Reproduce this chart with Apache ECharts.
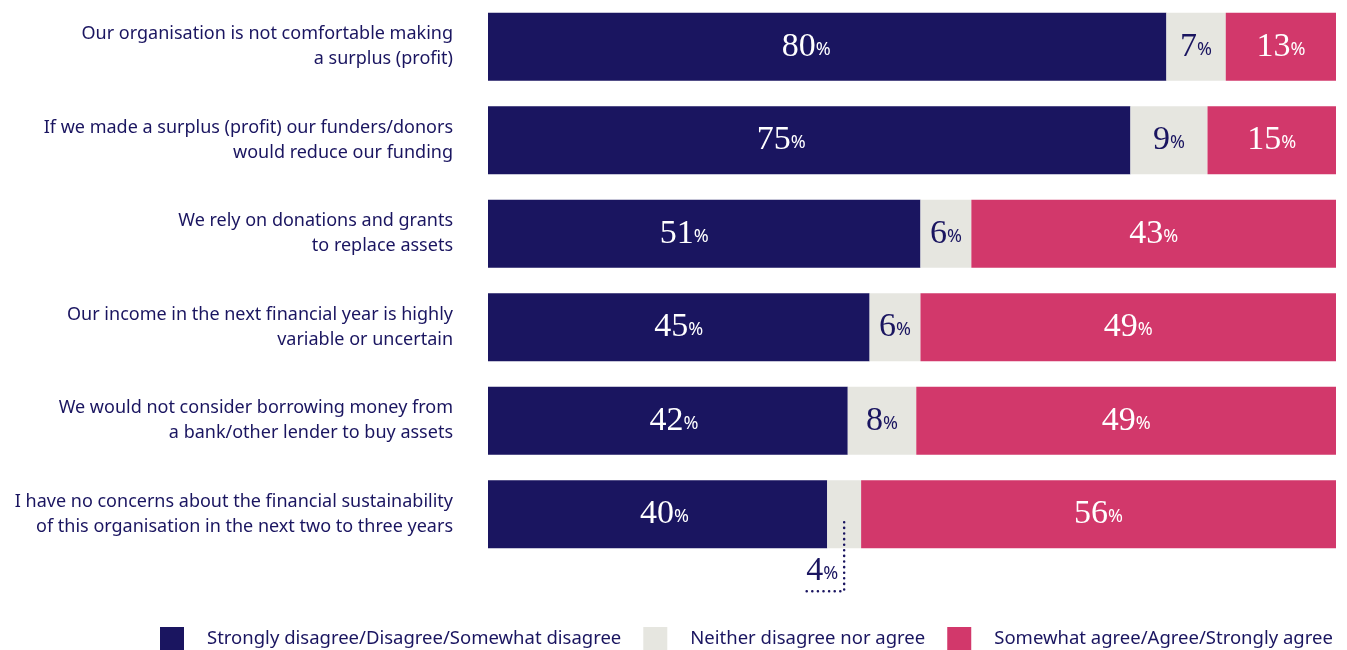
<!DOCTYPE html>
<html>
<head>
<meta charset="utf-8">
<title>Attitudes to surplus and financial sustainability</title>
<script src="https://cdn.jsdelivr.net/npm/echarts@6/dist/echarts.min.js"></script>
<style>
  html, body { margin: 0; padding: 0; background: #ffffff; }
  #chart { width: 1347px; height: 650px; }
</style>
</head>
<body>
<div id="chart"></div>
<script>
// Statements, top to bottom
const categories = [
  'Our organisation is not comfortable making\na surplus (profit)',
  'If we made a surplus (profit) our funders/donors\nwould reduce our funding',
  'We rely on donations and grants\nto replace assets',
  'Our income in the next financial year is highly\nvariable or uncertain',
  'We would not consider borrowing money from\na bank/other lender to buy assets',
  'I have no concerns about the financial sustainability\nof this organisation in the next two to three years'
];

const seriesNames = [
  'Strongly disagree/Disagree/Somewhat disagree',
  'Neither disagree nor agree',
  'Somewhat agree/Agree/Strongly agree'
];

// Share of respondents (%), as reported (rounded)
const disagree = [80, 75, 51, 45, 42, 40];
const neither  = [7, 9, 6, 6, 8, 4];
const agree    = [13, 15, 43, 49, 49, 56];

// Rows whose middle segment is too narrow for an inside label
const calloutRows = [5];

const NAVY = '#1a1560';
const GREY = '#e6e6e0';
const PINK = '#d2386b';

// Horizontal nudge (px) of the label inside each "disagree" segment
const disagreeLabelNudge = [-21, -28, -20, 0, 6, 7];

// Each row is drawn as a 100% bar: segments are scaled by the row total,
// labels show the reported percentage.
const rowTotals = disagree.map((v, i) => v + neither[i] + agree[i]);
const share = (v, i) => v / rowTotals[i] * 100;

const chart = echarts.init(document.getElementById('chart'));

const richPct = color => ({
  n: { fontFamily: 'Liberation Serif', fontSize: 34, color: color },
  p: { fontFamily: 'Noto Sans', fontSize: 18, color: color, padding: [6, 0, 0, 0] }
});

function valueLabel(color) {
  return {
    show: true,
    position: 'inside',
    formatter: p => '{n|' + p.data.reported + '}{p|%}',
    rich: richPct(color)
  };
}

function buildData(values, opts) {
  opts = opts || {};
  return values.map((v, i) => {
    const item = { value: share(v, i), reported: v };
    if (opts.hideRows && opts.hideRows.includes(i)) item.label = { show: false };
    if (opts.nudge) item.label = { offset: [opts.nudge[i], 0] };
    return item;
  });
}

chart.setOption({
  animation: false,
  grid: { left: 488, right: 11, top: -1, height: 562, containLabel: false },
  xAxis: { type: 'value', min: 0, max: 100, show: false },
  yAxis: {
    type: 'category',
    data: categories,
    inverse: true,
    axisLine: { show: false },
    axisTick: { show: false },
    axisLabel: {
      margin: 35,
      align: 'right',
      color: NAVY,
      fontFamily: 'Noto Sans',
      fontSize: 18,
      lineHeight: 25,
      padding: [6, 0, 0, 0]
    }
  },
  legend: {
    left: 160,
    top: 627,
    padding: 0,
    icon: 'rect',
    itemWidth: 24,
    itemHeight: 24,
    itemGap: 22,
    textStyle: { color: NAVY, fontFamily: 'Noto Sans', fontSize: 18.5, padding: [0, 0, 0, 18] },
    data: seriesNames
  },
  series: [
    { name: seriesNames[0], type: 'bar', stack: 'total', barWidth: 68,
      itemStyle: { color: NAVY }, label: valueLabel('#ffffff'),
      data: buildData(disagree, { nudge: disagreeLabelNudge }) },
    { name: seriesNames[1], type: 'bar', stack: 'total', barWidth: 68,
      itemStyle: { color: GREY }, label: valueLabel(NAVY),
      data: buildData(neither, { hideRows: calloutRows }) },
    { name: seriesNames[2], type: 'bar', stack: 'total', barWidth: 68,
      itemStyle: { color: PINK }, label: valueLabel('#ffffff'),
      data: buildData(agree) }
  ]
});

// Dotted leader lines for the narrow middle segments
const graphics = [];
calloutRows.forEach(i => {
  const mid = chart.convertToPixel({ gridIndex: 0 },
    [share(disagree[i], i) + share(neither[i], i) / 2, categories[i]]);
  const x = mid[0], y = mid[1];
  graphics.push({
    type: 'polyline',
    z: 100,
    shape: { points: [[x, y + 8], [x, y + 77], [x - 43, y + 77]] },
    style: { stroke: NAVY, lineWidth: 2.5, lineDash: [0.1, 5.5], lineCap: 'round', fill: null }
  });
  graphics.push({
    type: 'text',
    z: 100,
    x: x - 22,
    y: y + 74,
    style: {
      text: '{n|' + neither[i] + '}{p|%}',
      align: 'center',
      verticalAlign: 'bottom',
      rich: {
        n: { fontFamily: 'Liberation Serif', fontSize: 34, fill: NAVY },
        p: { fontFamily: 'Noto Sans', fontSize: 18, fill: NAVY, padding: [6, 0, 0, 0] }
      }
    }
  });
});
chart.setOption({ graphic: graphics });
</script>
</body>
</html>
